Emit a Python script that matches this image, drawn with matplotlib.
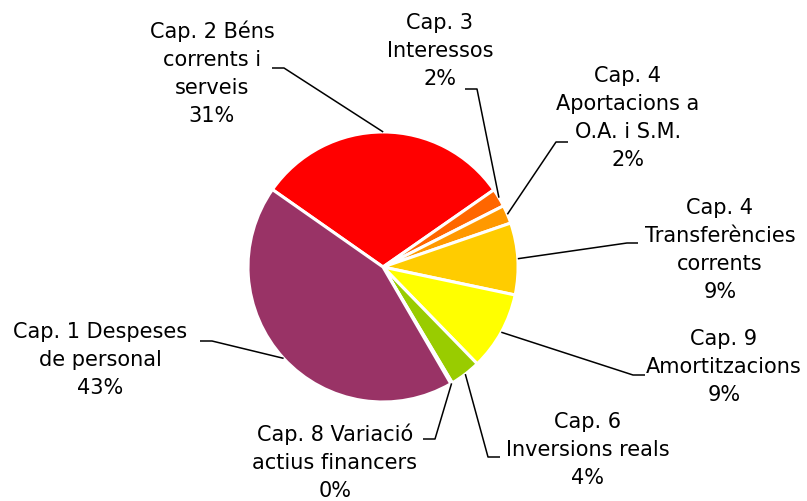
import numpy as np
import matplotlib
matplotlib.use("Agg")
import matplotlib.pyplot as plt

# ---- data ----
labels = ["Cap. 2 Béns\ncorrents i\nserveis",
          "Cap. 3\nInteressos",
          "Cap. 4\nAportacions a\nO.A. i S.M.",
          "Cap. 4\nTransferències\ncorrents",
          "Cap. 9\nAmortitzacions",
          "Cap. 6\nInversions reals",
          "Cap. 8 Variació\nactius financers",
          "Cap. 1 Despeses\nde personal"]
values = [30.6, 2.2, 2.2, 8.6, 9.4, 3.7, 0.2, 43.1]
colors = ["#FF0000", "#FF6600", "#FF9900", "#FFCC00", "#FFFF00",
          "#99CC00", "#339966", "#993366"]
explode = [0.03, 0.07, 0.07, 0.07, 0.07, 0.07, 0.07, 0.0]

# label layout in pixel coordinates (text centre, elbow end, elbow corner)
text_pos = [(212, 73), (440, 51), (628, 118), (720, 250),
            (724, 367), (588, 450), (335, 462), (100, 360)]
elbow_end = [(272, 68), (465, 89), (568, 142), (638, 243),
             (645, 375), (500, 457), (423, 439), (200, 341)]
elbow_corner = [(284, 68), (477, 89), (556, 142), (627, 243),
                (633, 375), (488, 457), (435, 439), (212, 341)]

W, H = 807, 501
fig = plt.figure(figsize=(W / 100, H / 100), dpi=100)
ax = fig.add_axes([0, 0, 1, 1])

def py(y):
    return H - y

cx, cy, R = 383, py(267), 135
wedges, _ = ax.pie(values, colors=colors, explode=explode, startangle=145,
                   counterclock=False, center=(cx, cy), radius=R,
                   wedgeprops=dict(edgecolor="white", linewidth=2.2),
                   frame=True)
ax.set_xlim(0, W)
ax.set_ylim(0, H)
ax.set_aspect("equal")
ax.axis("off")

total = sum(values)
for i, w in enumerate(wedges):
    ang = np.deg2rad((w.theta1 + w.theta2) / 2)
    wx, wy = w.center
    sx = wx + w.r * np.cos(ang)
    sy = wy + w.r * np.sin(ang)
    ex, ey = elbow_end[i]
    kx, ky = elbow_corner[i]
    ax.plot([sx, kx, ex], [sy, py(ky), py(ey)], color="black", lw=1.1,
            solid_capstyle="butt", zorder=5)
    pct = round(values[i] / total * 100)
    tx, ty = text_pos[i]
    ax.text(tx, py(ty), f"{labels[i]}\n{pct}%", ha="center", va="center",
            fontsize=15, family="DejaVu Sans", linespacing=1.5)

fig.savefig("out.png", dpi=100)
